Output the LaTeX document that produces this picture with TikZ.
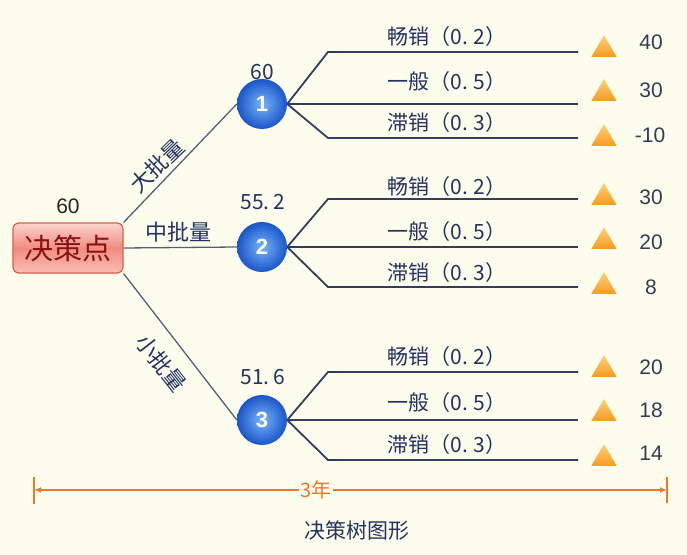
\documentclass[tikz,border=0pt]{standalone}
\usepackage{fontspec}
\setmainfont{Noto Sans CJK SC}
\newfontfamily\numfont{Liberation Sans}
\usetikzlibrary{shapes.geometric,arrows.meta,backgrounds}
\definecolor{bgc}{RGB}{253,253,238}
\definecolor{navy}{RGB}{35,50,95}
\definecolor{outc}{RGB}{50,62,92}
\definecolor{branchc}{RGB}{85,95,122}
\definecolor{valc}{RGB}{50,60,82}
\definecolor{orangec}{RGB}{240,120,45}
\definecolor{boxtop}{RGB}{252,212,205}
\definecolor{boxmid}{RGB}{240,140,128}
\definecolor{boxbot}{RGB}{250,190,180}
\definecolor{boxborder}{RGB}{222,95,75}
\definecolor{boxtext}{RGB}{135,20,20}
\definecolor{ballin}{RGB}{120,180,250}
\definecolor{ballout}{RGB}{25,85,200}
\definecolor{tritop}{RGB}{255,210,120}
\definecolor{tribot}{RGB}{245,155,35}
\begin{document}
\begin{tikzpicture}[x=1bp,y=-1bp,
  decbox/.style={draw=boxborder, line width=1.2bp, rounded corners=6bp,
    minimum width=110bp, minimum height=50bp, inner sep=0pt,
    top color=boxtop, bottom color=boxbot, middle color=boxmid,
    text=boxtext, font=\fontsize{29bp}{32bp}\selectfont},
  chance/.style={circle, minimum size=50bp, inner sep=0pt,
    inner color=ballin, outer color=ballout, text=white,
    font=\numfont\bfseries\fontsize{22bp}{24bp}\selectfont},
  toplab/.style={text=black!85, font=\numfont\fontsize{21bp}{24bp}\selectfont},
  evlab/.style={text=navy, font=\fontsize{21bp}{24bp}\selectfont},
  problab/.style={text=navy, font=\fontsize{21bp}{24bp}\selectfont},
  brlab/.style={text=navy, inner sep=1bp, font=\fontsize{22bp}{25bp}\selectfont},
  vallab/.style={text=valc, font=\numfont\fontsize{21bp}{24bp}\selectfont},
  tri/.style={regular polygon, regular polygon sides=3, minimum size=29bp,
    inner sep=0pt, top color=tritop, bottom color=tribot, anchor=south},
  branch/.style={draw=branchc, line width=1.3bp},
  outl/.style={draw=outc, line width=1.8bp},
  dim/.style={draw=orangec, line width=1.5bp},
  dimarrow/.style={dim, -{Latex[length=7bp,width=6bp]}}
]
% decision and chance nodes
\node[decbox] (dp) at (68,248) {决策点};
\node[toplab] (v0) at (68,206) {60};
\node[chance] (c1) at (262,104) {1};
\node[chance] (c2) at (262,247) {2};
\node[chance] (c3) at (262,420) {3};
\node[evlab] (ev1) at (262,72) {60};
\node[evlab] (ev2) at (263,202) {55.\kern4bp 2};
\node[evlab] (ev3) at (263,377) {51.\kern4bp 6};

% branch labels
\node[brlab, rotate=44] (lb1) at (157,166) {大批量};
\node[brlab] (lb2) at (178,232) {中批量};
\node[brlab, rotate=-52] (lb3) at (161,363) {小批量};

% knee and end coordinates
\coordinate (k11) at (328,52);  \coordinate (e11) at (578,52);
\coordinate (e12) at (578,104);
\coordinate (k13) at (328,138); \coordinate (e13) at (578,138);
\coordinate (k21) at (328,199); \coordinate (e21) at (578,199);
\coordinate (e22) at (578,247);
\coordinate (k23) at (328,287); \coordinate (e23) at (578,287);
\coordinate (k31) at (328,372); \coordinate (e31) at (578,372);
\coordinate (e32) at (578,420);
\coordinate (k33) at (328,460); \coordinate (e33) at (578,460);

% probability labels
\node[problab] (p11) at (447,37)  {畅销（0.\kern5bp 2）};
\node[problab] (p12) at (447,82)  {一般（0.\kern5bp 5）};
\node[problab] (p13) at (447,123) {滞销（0.\kern5bp 3）};
\node[problab] (p21) at (447,187) {畅销（0.\kern5bp 2）};
\node[problab] (p22) at (447,232) {一般（0.\kern5bp 5）};
\node[problab] (p23) at (447,273) {滞销（0.\kern5bp 3）};
\node[problab] (p31) at (447,357) {畅销（0.\kern5bp 2）};
\node[problab] (p32) at (447,403) {一般（0.\kern5bp 5）};
\node[problab] (p33) at (447,445) {滞销（0.\kern5bp 3）};

% terminal triangles
\node[tri] (t11) at (604,57)  {};
\node[tri] (t12) at (604,101) {};
\node[tri] (t13) at (604,146) {};
\node[tri] (t21) at (604,205) {};
\node[tri] (t22) at (604,249) {};
\node[tri] (t23) at (604,294) {};
\node[tri] (t31) at (604,377) {};
\node[tri] (t32) at (604,421) {};
\node[tri] (t33) at (604,466) {};

% payoffs
\node[vallab] (r11) at (651,42)  {40};
\node[vallab] (r12) at (651,90)  {30};
\node[vallab] (r13) at (650,135) {-10};
\node[vallab] (r21) at (651,197) {30};
\node[vallab] (r22) at (651,242) {20};
\node[vallab] (r23) at (651,287) {8};
\node[vallab] (r31) at (651,367) {20};
\node[vallab] (r32) at (651,410) {18};
\node[vallab] (r33) at (651,453) {14};

% time span
\coordinate (tl) at (34,490);
\coordinate (tr) at (667,490);
\node[text=orangec, font=\fontsize{20bp}{22bp}\selectfont, inner sep=1bp] (yr) at (316,490) {3年};
\node[text=navy, font=\fontsize{21bp}{24bp}\selectfont] (cap) at (357,531) {决策树图形};
\draw[dimarrow] (yr) -- (tl);
\draw[dimarrow] (yr) -- (tr);
\draw[dim] ([yshift=-14bp]tl) -- ([yshift=13bp]tl);
\draw[dim] ([yshift=-13bp]tr) -- ([yshift=13bp]tr);

\begin{scope}[on background layer]
  \fill[bgc] (0,0) rectangle (687,555);
  \draw[branch] (dp.north east) -- (c1.west);
  \draw[branch] (dp.east) -- (c2.west);
  \draw[branch] (dp.south east) -- (c3.west);
  \draw[outl] (c1.east) -- (k11) -- (e11);
  \draw[outl] (c1.east) -- (e12);
  \draw[outl] (c1.east) -- (k13) -- (e13);
  \draw[outl] (c2.east) -- (k21) -- (e21);
  \draw[outl] (c2.east) -- (e22);
  \draw[outl] (c2.east) -- (k23) -- (e23);
  \draw[outl] (c3.east) -- (k31) -- (e31);
  \draw[outl] (c3.east) -- (e32);
  \draw[outl] (c3.east) -- (k33) -- (e33);
\end{scope}
\useasboundingbox (0,0) rectangle (687,555);
\end{tikzpicture}
\end{document}
